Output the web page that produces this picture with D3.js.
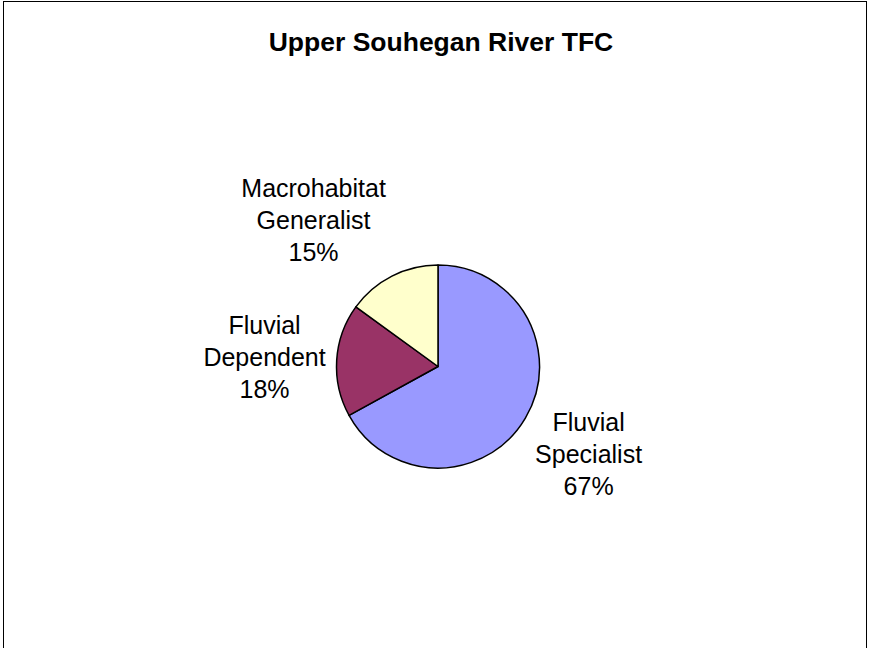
<!DOCTYPE html>
<html>
<head>
<meta charset="utf-8">
<script src="https://cdn.jsdelivr.net/npm/d3@7"></script>
<style>
  html, body { margin: 0; padding: 0; background: #fff; }
  svg { display: block; font-family: "Liberation Sans", Arial, sans-serif; }
</style>
</head>
<body>
<svg id="chart" width="870" height="648"></svg>
<script>
const title = "Upper Souhegan River TFC";
const categories = [["Fluvial", "Specialist"], ["Fluvial", "Dependent"], ["Macrohabitat", "Generalist"]];
const values = [67, 18, 15];
const percentLabels = ["67%", "18%", "15%"];
const colors = ["#9999FF", "#993366", "#FFFFCC"];

const W = 870, H = 648;
const svg = d3.select("#chart");

// chart frame
svg.append("rect")
  .attr("x", 3.5).attr("y", 1.5)
  .attr("width", 863).attr("height", 700)
  .attr("fill", "none").attr("stroke", "#000").attr("stroke-width", 1);

// title
svg.append("text")
  .attr("x", 441).attr("y", 50.5)
  .attr("text-anchor", "middle")
  .attr("font-size", "26.5px").attr("font-weight", "bold")
  .attr("fill", "#000")
  .text(title);

const cx = 438, cy = 366.5, R = 101.5;
const g = svg.append("g").attr("transform", `translate(${cx},${cy})`);

const pie = d3.pie().sort(null).value(d => d)
  .startAngle(0).endAngle(2 * Math.PI);
const arcs = pie(values);
const arc = d3.arc().innerRadius(0).outerRadius(R);

g.selectAll("path.slice")
  .data(arcs)
  .join("path")
  .attr("class", "slice")
  .attr("d", arc)
  .attr("fill", (d, i) => colors[i])
  .attr("stroke", "#000")
  .attr("stroke-width", 1.5)
  .attr("stroke-linejoin", "round");

// labels placed outside end, box anchored to point just outside the pie edge
const fs = 25, lh = 32, cap = 18;
const rA = R + 9;
arcs.forEach((d, i) => {
  const lines = [...categories[i], percentLabels[i]];
  const t = g.append("text")
    .attr("font-size", fs + "px").attr("fill", "#000")
    .attr("text-anchor", "middle");
  lines.forEach((ln, k) => t.append("tspan").attr("x", 0).attr("dy", k === 0 ? 0 : lh).text(ln));
  let maxW = 0;
  t.selectAll("tspan").each(function () { maxW = Math.max(maxW, this.getComputedTextLength()); });
  const halfW = maxW / 2 + 2;
  const boxTopOff = cap + 2, boxH = cap + 2 + lh * (lines.length - 1) + 7;
  const halfH = boxH / 2;
  const a = (d.startAngle + d.endAngle) / 2;
  const s = Math.sin(a), c = -Math.cos(a);
  const ax = rA * s, ay = rA * c;
  const sx = Math.max(-1, Math.min(1, s / 0.4));
  const sy = Math.max(-1, Math.min(1, Math.sign(c) * c * c / 0.35));
  const bx = ax + sx * halfW;
  const by = ay + sy * halfH;
  const firstBase = by - halfH + boxTopOff;
  t.attr("transform", `translate(${bx},${firstBase})`);
});
</script>
</body>
</html>
